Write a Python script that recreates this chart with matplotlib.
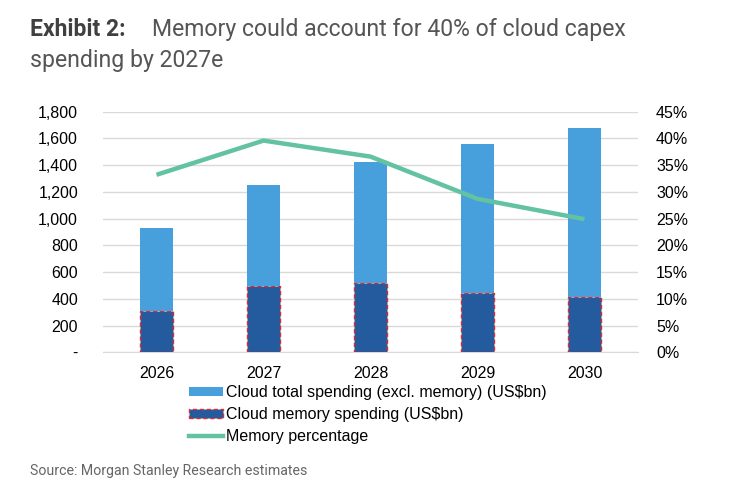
import matplotlib
matplotlib.use("Agg")
import matplotlib.pyplot as plt
from matplotlib.ticker import FuncFormatter
from matplotlib.patches import Patch
from matplotlib.lines import Line2D

years = ["2026", "2027", "2028", "2029", "2030"]
memory_spend = [307, 494, 518, 443, 411]
total_excl_memory = [623, 757, 903, 1113, 1264]
memory_pct = [33.2, 39.6, 36.6, 28.7, 24.9]

light_blue = "#479FDB"
dark_blue = "#245B9E"
green = "#62C2A2"
red = "#E0292B"

fig = plt.figure(figsize=(7.38, 4.86), dpi=100)
ax = fig.add_axes([103/738, 1-352.3/486, (638-103)/738, (352.3-111.7)/486])
ax2 = ax.twinx()

x = list(range(len(years)))
w = 0.315
ax.bar(x, memory_spend, width=w, color=dark_blue, edgecolor=red, linestyle=(0, (3, 2)),
       linewidth=1.0, zorder=3)
ax.bar(x, total_excl_memory, width=w, bottom=memory_spend, color=light_blue,
       edgecolor="none", zorder=3)
ax2.plot(x, memory_pct, color=green, linewidth=3.2, zorder=4, solid_capstyle="butt")

ax.set_xlim(-0.5, 4.5)
ax.set_ylim(0, 1800)
ax.set_yticks(range(0, 1801, 200))
ax.yaxis.set_major_formatter(FuncFormatter(lambda v, p: "-" if v == 0 else f"{int(v):,}"))
ax2.set_ylim(0, 45)
ax2.set_yticks(range(0, 46, 5))
ax2.yaxis.set_major_formatter(FuncFormatter(lambda v, p: f"{int(v)}%"))
ax.set_xticks(x)
ax.set_xticklabels(years)

ax.grid(axis="y", color="#D9D9D9", linewidth=1.0, zorder=0)
ax.set_axisbelow(True)
for a in (ax, ax2):
    for s in a.spines.values():
        s.set_visible(False)
ax.spines["bottom"].set_visible(True)
ax.spines["bottom"].set_color("#D9D9D9")
ax.tick_params(axis="both", length=0, labelsize=11.5, labelcolor="#000000", colors="#000000")
ax.tick_params(axis="y", pad=18)
ax.tick_params(axis="x", pad=10)
ax2.tick_params(axis="y", length=0, labelsize=11.5, pad=13, labelcolor="#000000")
for lab in ax.get_xticklabels() + ax.get_yticklabels() + ax2.get_yticklabels():
    lab.set_fontfamily("Liberation Sans")

handles = [
    Patch(facecolor=light_blue, edgecolor="none"),
    Patch(facecolor=dark_blue, edgecolor=red, linestyle=(0, (3, 2)), linewidth=1.0),
    Line2D([0], [0], color=green, linewidth=3.2),
]
labels = ["Cloud total spending (excl. memory) (US$bn)",
          "Cloud memory spending (US$bn)",
          "Memory percentage"]
leg = fig.legend(handles, labels, loc="upper left", bbox_to_anchor=(189/738, 1-385/486),
                 frameon=False, prop={"family": "Liberation Sans", "size": 11.5},
                 handlelength=2.15, handleheight=0.5, handletextpad=0.15, labelspacing=0.45,
                 borderpad=0, borderaxespad=0)

fig.text(30/738, 1-36/486, "Exhibit 2:", fontfamily="Roboto", fontweight="bold",
         fontsize=16.5, color="#404040", va="baseline", ha="left")
fig.text(152/738, 1-36/486, "Memory could account for 40% of cloud capex",
         fontfamily="Roboto", fontsize=16.6, color="#555555", va="baseline", ha="left")
fig.text(30/738, 1-67/486, "spending by 2027e",
         fontfamily="Roboto", fontsize=16.6, color="#555555", va="baseline", ha="left")
fig.text(30/738, 1-475/486, "Source: Morgan Stanley Research estimates",
         fontfamily="Roboto", fontsize=10.2, color="#666666", va="baseline", ha="left")

fig.savefig("out.png", dpi=100)
